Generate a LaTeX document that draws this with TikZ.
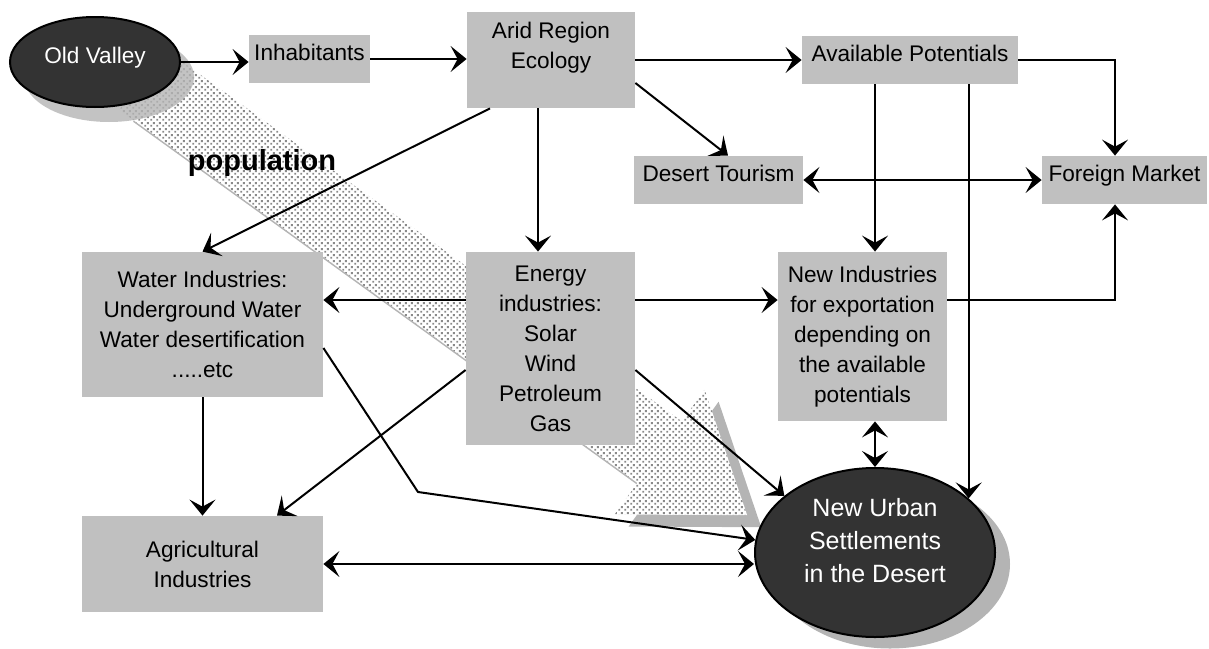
\documentclass[tikz,border=0pt]{standalone}
\usepackage{fontspec}
\setmainfont{Liberation Sans}
\usetikzlibrary{arrows.meta,positioning,shapes.geometric,patterns}
\definecolor{boxc}{HTML}{C0C0C0}
\definecolor{ovalc}{HTML}{333333}
\definecolor{shadc}{HTML}{B4B4B4}
\definecolor{dotc}{HTML}{8A8A8A}
\pgfdeclarepatternformonly{popdots}{\pgfqpoint{0pt}{0pt}}{\pgfqpoint{3pt}{3pt}}{\pgfqpoint{3pt}{3pt}}{%
  \pgfpathrectangle{\pgfqpoint{0.2pt}{0.2pt}}{\pgfqpoint{1.1pt}{1.1pt}}%
  \pgfpathrectangle{\pgfqpoint{1.7pt}{1.7pt}}{\pgfqpoint{1.1pt}{1.1pt}}%
  \pgfusepath{fill}}
\tikzset{
  box/.style={rectangle, fill=boxc, inner sep=0pt, align=center},
  onebox/.style={box, text height=8.5pt, text depth=7pt},
  oval/.style={ellipse, draw=black, line width=1pt, fill=ovalc, text=white, inner sep=0pt, align=center},
  ovalshadow/.style={ellipse, fill=shadc, inner sep=0pt},
  link/.style={-{Stealth[length=8pt, width=13pt, inset=3.5pt]}, line width=1pt},
  twoway/.style={{Stealth[length=8pt, width=13pt, inset=3.5pt]}-{Stealth[length=8pt, width=13pt, inset=3.5pt]}, line width=1pt},
  band/.style={pattern=popdots, pattern color=dotc},
}
\newcommand{\popband}{(163.5,48.2) -- (681.8,421.3) -- (704.6,389.7) -- (747.2,515.2) -- (614.6,514.5) -- (637.4,482.9) -- (119.1,109.8) -- cycle}

\begin{document}
\begin{tikzpicture}[x=0.5pt, y=-0.5pt, font=\fontsize{11.3}{15}\selectfont]
  \useasboundingbox (0,0) rectangle (1209,648);
  % population flow
  \fill[shadc, shift={(14,12)}] \popband;
  \fill[white] \popband;
  \fill[band] \popband;
  \node[ovalshadow, opacity=0.8, minimum width=85pt, minimum height=45pt] (ovs) at (109,77) {};
  \node[ovalshadow, minimum width=120pt, minimum height=84.5pt] (nus) at (890,564) {};
  \node[font=\bfseries\fontsize{14.5}{17}\selectfont] (pop) at (262,163) {population};
  % nodes
  \node[oval, minimum width=85pt, minimum height=45pt, text height=8.5pt, text depth=7pt] (ov) at (95,62) {Old Valley};
  \node[onebox, minimum width=60.5pt, minimum height=24pt] (inh) at (309.5,59) {Inhabitants};
  \node[box, minimum width=84pt, minimum height=48pt] (arid) at (551,60) {Arid Region\\Ecology\\\mbox{}};
  \node[onebox, minimum width=108pt, minimum height=24pt] (avail) at (910,60) {Available Potentials};
  \node[onebox, minimum width=84.5pt, minimum height=24pt] (dt) at (718.5,180) {Desert Tourism};
  \node[onebox, minimum width=82.5pt, minimum height=24pt] (fm) at (1124.5,180) {Foreign Market};
  \node[box, minimum width=120.5pt, minimum height=72.5pt] (water) at (202.5,324.5) {Water Industries:\\Underground Water\\Water desertification\\.....etc};
  \node[box, minimum width=84.5pt, minimum height=96.5pt] (energy) at (550.5,348.5) {Energy\\industries:\\Solar\\Wind\\Petroleum\\Gas};
  \node[box, minimum width=84.5pt, minimum height=84.5pt] (newind) at (862.5,336.5) {New Industries\\for exportation\\depending on\\the available\\potentials};
  \node[box, minimum width=120.5pt, minimum height=48pt] (agri) at (202.5,564) {Agricultural\\Industries};
  \node[oval, minimum width=120pt, minimum height=84.5pt, font=\fontsize{12.5}{16.5}\selectfont] (nu) at (875,552.5) {New Urban\\Settlements\\in the Desert\\[-4pt]\mbox{}};
  % connectors
  \draw[link] (ov.east) -- (ov.east -| inh.west);
  \draw[link] (inh.east) -- (inh.east -| arid.west);
  \draw[link] (arid.east) -- (arid.east -| avail.west);
  \draw[link] (arid.east |- 0,83) -- (dt.north -| 728,0);
  \draw[link] (arid.south -| 490,0) -- (water.north);
  \draw[link] (arid.south -| 538,0) -- (energy.north -| 538,0);
  \draw[link] (avail.east) -| (fm.north -| 1115,0);
  \draw[link] (avail.south -| nu.north) -- (newind.north -| nu.north);
  \draw[link] (avail.south -| nu.30) -- (nu.30);
  \draw[twoway] (dt.east) -- (fm.west);
  \draw[link] (energy.west |- 0,300) -- (water.east |- 0,300);
  \draw[link] (energy.east |- 0,300) -- (newind.west |- 0,300);
  \draw[link] (newind.east |- 0,300) -| (fm.south -| 1115,0);
  \draw[link] (water.south) -- (agri.north);
  \draw[link] (water.east |- 0,348) -- (418,492) -- (nu.174);
  \draw[link] (energy.west |- 0,370) -- (agri.north -| 277,0);
  \draw[link] (energy.east |- 0,370) -- (nu.148);
  \draw[twoway] (agri.east) -- (agri.east -| nu.west);
  \draw[twoway] (newind.south -| nu.north) -- (nu.north);
\end{tikzpicture}
\end{document}
